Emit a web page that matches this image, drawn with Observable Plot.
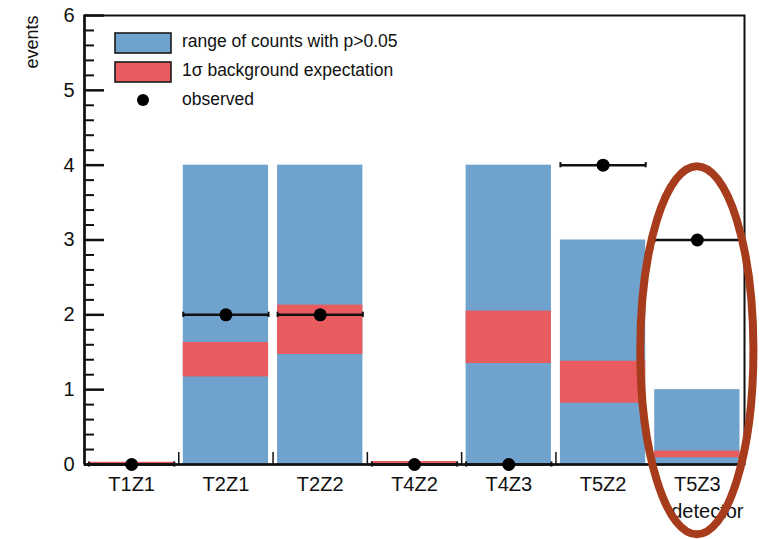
<!DOCTYPE html>
<html>
<head>
<meta charset="utf-8">
<script src="https://cdn.jsdelivr.net/npm/d3@7"></script>
<script src="https://cdn.jsdelivr.net/npm/@observablehq/plot@0.6"></script>
<style>
  body { margin: 0; background: #fff; }
  svg { display: block; }
</style>
</head>
<body>
<div id="chart"></div>
<script>
// Signal regions and per-region event counts
const regions    = ["T1Z1", "T2Z1", "T2Z2", "T4Z2", "T4Z3", "T5Z2", "T5Z3"];
const rangeLow   = [0, 0, 0, 0, 0, 0, 0];          // range of counts with p>0.05
const rangeHigh  = [0, 4, 4, 0, 4, 3, 1];
const bkgLow     = [0, 1.17, 1.47, 0, 1.35, 0.82, 0.09]; // 1σ background band
const bkgHigh    = [0.03, 1.63, 2.13, 0.04, 2.05, 1.38, 0.18];
const observed   = [0, 2, 2, 0, 0, 4, 3];
const yTicks     = [0, 1, 2, 3, 4, 5, 6];
const legendLabels = ["range of counts with p>0.05", "1σ background expectation", "observed"];
const yLabel = "events";
const xLabel = "detector";
// highlighted region (ellipse centre and half-axes in data units)
const highlightRegion = "T5Z3";
const highlightY = 1.52;
const highlightRx = 0.6;
const highlightRy = 2.46;

const BLUE = "#6fa2cd";
const RED = "#e85b5f";
const FONT = "'Liberation Sans', Arial, Helvetica, sans-serif";

const W = 759, H = 539;
const mL = 84, mR = 15, mT = 15, mB = 75;
const frameW = W - mL - mR, frameH = H - mT - mB;
const inset = 4.5;

const rows = regions.map((region, i) => ({
  region, i,
  lo: rangeLow[i], hi: rangeHigh[i],
  b0: bkgLow[i], b1: bkgHigh[i],
  obs: observed[i]
}));

const minorTicks = d3.range(0, 6.0001, 0.2).map(v => +v.toFixed(1)).filter(v => !Number.isInteger(v));
const binEdges = d3.range(1, regions.length);

const plot = Plot.plot({
  width: W,
  height: H,
  marginLeft: mL,
  marginRight: mR,
  marginTop: mT,
  marginBottom: mB,
  style: { fontFamily: FONT, background: "#fff", overflow: "visible" },
  x: { domain: [0, regions.length], axis: null },
  y: { domain: [0, 6], axis: null },
  marks: [
    // p>0.05 count range
    Plot.rectY(rows.filter(d => d.hi > d.lo), {
      x1: d => d.i, x2: d => d.i + 1, y1: "lo", y2: "hi",
      fill: BLUE, insetLeft: inset, insetRight: inset
    }),
    // 1σ background expectation
    Plot.rectY(rows, {
      x1: d => d.i, x2: d => d.i + 1, y1: "b0", y2: "b1",
      fill: RED, insetLeft: inset, insetRight: inset
    }),
    // frame and heavier axes
    Plot.frame({ stroke: "#111", strokeWidth: 2 }),
    Plot.ruleX([0], { stroke: "#111", strokeWidth: 2.5 }),
    Plot.ruleY([0], { stroke: "#111", strokeWidth: 2.5 }),
    // inward y ticks
    Plot.ruleY(yTicks, { stroke: "#111", strokeWidth: 2.5, insetRight: frameW - 20 }),
    Plot.ruleY(minorTicks, { stroke: "#111", strokeWidth: 2, insetRight: frameW - 10 }),
    // bin-edge ticks on the x axis
    Plot.ruleX(binEdges, { stroke: "#111", strokeWidth: 1.5, insetTop: frameH - 12 }),
    // observed counts with bin-width bars
    Plot.ruleY(rows, {
      y: "obs", x1: d => d.i, x2: d => d.i + 1,
      stroke: "#111", strokeWidth: 2.5, insetLeft: inset, insetRight: inset
    }),
    Plot.ruleX(rows, { x: d => d.i, y1: d => d.obs - 0.035, y2: d => d.obs + 0.035, dx: inset, stroke: "#111", strokeWidth: 2 }),
    Plot.ruleX(rows, { x: d => d.i + 1, y1: d => d.obs - 0.035, y2: d => d.obs + 0.035, dx: -inset, stroke: "#111", strokeWidth: 2 }),
    Plot.dot(rows, { x: d => d.i + 0.5, y: "obs", r: 6.5, fill: "#000", stroke: "none" }),
    // tick labels
    Plot.text(yTicks, {
      x: 0, y: d => d, text: d => String(d), dx: -10,
      textAnchor: "end", fontSize: 20, fill: "#111"
    }),
    Plot.text(rows, {
      x: d => d.i + 0.5, y: 0, text: "region", dy: 26,
      lineAnchor: "bottom", fontSize: 20, fill: "#111"
    }),
    // axis titles
    Plot.text([yLabel], {
      frameAnchor: "top-left", text: d => d, rotate: -90, dx: -47,
      textAnchor: "end", lineAnchor: "bottom", fontSize: 18, fill: "#111"
    }),
    Plot.text([xLabel], {
      frameAnchor: "bottom-right", text: d => d, dx: -1, dy: 53,
      textAnchor: "end", lineAnchor: "bottom", fontSize: 20, fill: "#111"
    })
  ]
});

const svg = d3.select(plot);

// legend in the upper-left corner of the frame
const legend = svg.append("g")
  .attr("font-family", FONT)
  .attr("font-size", 17.5)
  .attr("text-anchor", "start")
  .attr("fill", "#111");
const lx = mL + 31, lw = 56, lh = 20;
[[BLUE, mT + 18], [RED, mT + 47]].forEach(([c, y]) => {
  legend.append("rect").attr("x", lx).attr("y", y).attr("width", lw).attr("height", lh)
    .attr("fill", c).attr("stroke", "#1a1a1a").attr("stroke-width", 1.6);
});
legend.append("circle").attr("cx", lx + lw / 2).attr("cy", mT + 85).attr("r", 6).attr("fill", "#000");
const ty = [mT + 32, mT + 61, mT + 90];
legendLabels.forEach((t, k) => {
  legend.append("text").attr("x", lx + lw + 11).attr("y", ty[k]).attr("text-anchor", "start").text(t);
});

// highlight ellipse around the last region
const sx = plot.scale("x"), sy = plot.scale("y");
const cxData = regions.indexOf(highlightRegion) + 0.5;
const cx = sx.apply(cxData), cy = sy.apply(highlightY);
const rx = sx.apply(cxData + highlightRx) - cx;
const ry = sy.apply(highlightY - highlightRy) - cy;
svg.append("ellipse")
  .attr("cx", cx).attr("cy", cy).attr("rx", rx).attr("ry", ry)
  .attr("fill", "none").attr("stroke", "#a63c1b").attr("stroke-width", 8);

document.getElementById("chart").appendChild(plot);
</script>
</body>
</html>
